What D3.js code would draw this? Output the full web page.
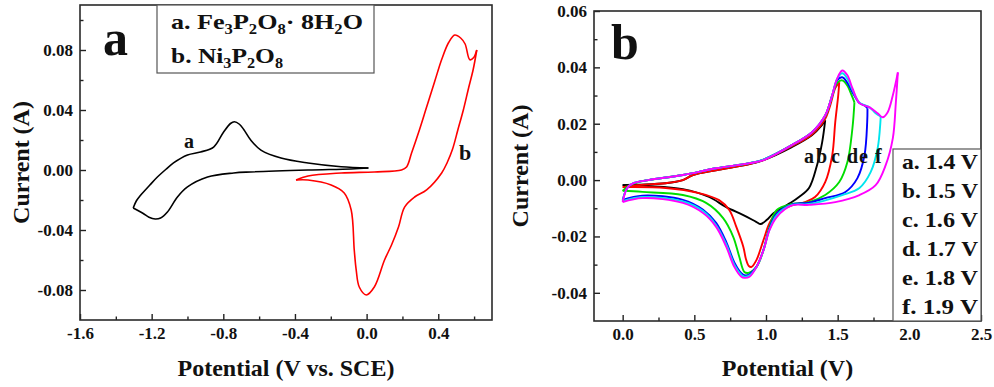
<!DOCTYPE html>
<html>
<head>
<meta charset="utf-8">
<script src="https://cdn.jsdelivr.net/npm/d3@7"></script>
<style>
  body { margin: 0; background: #fff; }
  svg { display: block; }
  svg text { font-family: "Liberation Serif", "DejaVu Serif", serif !important; font-weight: bold; fill: #111; }
</style>
</head>
<body>
<svg id="chart" width="994" height="387"></svg>
<script>
// ---- panel a : CV of the two phosphates, [potential V vs SCE, current A]
const fe3p2o8 = [
  [-1.303,-0.0253],[-1.285,-0.0205],[-1.263,-0.0170],[-1.210,-0.0100],[-1.168,-0.0047],[-1.120,0.0005],
  [-1.078,0.0047],[-1.000,0.0100],[-0.927,0.0120],[-0.854,0.0153],[-0.800,0.0250],[-0.760,0.0310],
  [-0.738,0.0322],[-0.710,0.0305],[-0.686,0.0270],[-0.647,0.0200],[-0.590,0.0133],[-0.478,0.0080],
  [-0.327,0.0047],[-0.142,0.0022],[0.010,0.0013],
  [-0.086,0.0007],[-0.327,0.0000],[-0.647,-0.0013],[-0.742,-0.0020],[-0.888,-0.0047],[-1.000,-0.0113],
  [-1.056,-0.0180],[-1.112,-0.0280],[-1.150,-0.0320],[-1.180,-0.0327],[-1.215,-0.0315],[-1.247,-0.0290],
  [-1.303,-0.0253]
];
const ni3p2o8 = [
  [-0.394,-0.0067],[-0.327,-0.0040],[-0.142,-0.0020],[0.043,-0.0013],[0.195,0.0000],[0.223,0.0020],
  [0.251,0.0113],[0.290,0.0250],[0.335,0.0420],[0.380,0.0590],[0.420,0.0740],[0.458,0.0850],
  [0.492,0.0900],[0.525,0.0880],[0.550,0.0840],[0.576,0.0735],[0.598,0.0750],[0.615,0.0800],
  [0.595,0.0670],[0.570,0.0550],[0.540,0.0400],[0.510,0.0270],[0.480,0.0140],[0.450,0.0050],
  [0.419,-0.0020],[0.335,-0.0133],[0.268,-0.0180],[0.212,-0.0247],[0.178,-0.0380],[0.139,-0.0500],
  [0.100,-0.0600],[0.043,-0.0780],[-0.002,-0.0833],[-0.041,-0.0780],[-0.058,-0.0667],[-0.069,-0.0533],
  [-0.086,-0.0267],[-0.125,-0.0153],[-0.198,-0.0100],[-0.327,-0.0067],[-0.394,-0.0067]
];

// ---- panel b : CV at different upper potentials, [potential V, current A]
const cv14 = [
  [0.000,-0.0018],[0.100,-0.0016],[0.300,-0.0011],[0.420,0.0000],[0.490,0.0018],[0.650,0.0035],
  [0.885,0.0057],[0.983,0.0071],[1.180,0.0117],[1.320,0.0159],[1.390,0.0195],[1.413,0.0212],
  [1.392,0.0135],[1.356,0.0053],[1.300,-0.0028],[1.230,-0.0060],[1.180,-0.0078],[1.054,-0.0117],
  [1.004,-0.0142],[0.962,-0.0156],[0.934,-0.0149],[0.842,-0.0124],[0.723,-0.0096],[0.603,-0.0060],
  [0.420,-0.0032],[0.180,-0.0021],[0.000,-0.0018]
];
const cv15 = [
  [0.000,-0.0025],[0.100,-0.0018],[0.300,-0.0011],[0.420,0.0000],[0.490,0.0018],[0.650,0.0035],
  [0.885,0.0057],[0.983,0.0071],[1.180,0.0120],[1.320,0.0162],[1.410,0.0215],[1.448,0.0265],
  [1.483,0.0326],[1.511,0.0347],
  [1.504,0.0301],[1.483,0.0205],[1.462,0.0088],[1.413,-0.0007],[1.342,-0.0060],[1.272,-0.0078],
  [1.180,-0.0090],[1.075,-0.0117],[1.025,-0.0152],[0.983,-0.0212],[0.934,-0.0283],[0.899,-0.0308],
  [0.880,-0.0305],[0.860,-0.0280],[0.842,-0.0237],[0.793,-0.0166],[0.744,-0.0106],[0.673,-0.0071],
  [0.532,-0.0046],[0.300,-0.0028],[0.000,-0.0025]
];
const cv16 = [
  [0.000,-0.0038],[0.039,-0.0021],[0.110,-0.0007],[0.180,0.0000],[0.420,0.0018],[0.652,0.0042],
  [0.885,0.0060],[0.983,0.0073],[1.180,0.0124],[1.321,0.0170],[1.413,0.0228],[1.462,0.0301],
  [1.497,0.0345],[1.532,0.0354],[1.568,0.0335],[1.590,0.0310],[1.617,0.0276],
  [1.603,0.0184],[1.568,0.0064],[1.511,-0.0007],[1.413,-0.0053],[1.300,-0.0078],[1.180,-0.0085],
  [1.075,-0.0106],[1.025,-0.0166],[0.983,-0.0248],[0.934,-0.0308],[0.877,-0.0329],[0.849,-0.0326],
  [0.814,-0.0273],[0.772,-0.0202],[0.701,-0.0135],[0.582,-0.0081],[0.420,-0.0053],[0.138,-0.0042],
  [0.000,-0.0038]
];
const cv17 = [
  [0.000,-0.0070],[0.032,-0.0028],[0.075,-0.0011],[0.180,0.0000],[0.420,0.0018],[0.652,0.0042],
  [0.885,0.0060],[0.983,0.0073],[1.180,0.0124],[1.321,0.0170],[1.413,0.0229],[1.462,0.0301],
  [1.497,0.0355],[1.532,0.0365],[1.568,0.0345],[1.603,0.0312],[1.652,0.0273],[1.687,0.0265],
  [1.708,0.0255],
  [1.706,0.0205],[1.687,0.0088],[1.638,0.0007],[1.554,-0.0042],[1.413,-0.0064],[1.300,-0.0080],
  [1.180,-0.0087],[1.075,-0.0118],[1.025,-0.0170],[0.983,-0.0246],[0.934,-0.0307],[0.885,-0.0334],
  [0.856,-0.0338],[0.828,-0.0330],[0.779,-0.0292],[0.723,-0.0220],[0.652,-0.0152],[0.561,-0.0105],
  [0.420,-0.0070],[0.138,-0.0055],[0.000,-0.0070]
];
const cv18 = [
  [0.000,-0.0075],[0.032,-0.0028],[0.075,-0.0011],[0.180,0.0000],[0.420,0.0018],[0.652,0.0042],
  [0.885,0.0060],[0.983,0.0073],[1.180,0.0124],[1.321,0.0170],[1.413,0.0229],[1.462,0.0301],
  [1.497,0.0360],[1.532,0.0379],[1.568,0.0360],[1.603,0.0320],[1.652,0.0275],[1.723,0.0258],
  [1.765,0.0237],[1.800,0.0226],
  [1.798,0.0205],[1.779,0.0113],[1.730,0.0028],[1.652,-0.0028],[1.532,-0.0053],[1.300,-0.0085],
  [1.180,-0.0088],[1.075,-0.0124],[1.025,-0.0175],[0.983,-0.0248],[0.934,-0.0308],[0.885,-0.0338],
  [0.849,-0.0343],[0.828,-0.0336],[0.779,-0.0300],[0.723,-0.0228],[0.652,-0.0160],[0.561,-0.0110],
  [0.420,-0.0076],[0.138,-0.0060],[0.000,-0.0075]
];
const cv19 = [
  [0.000,-0.0078],[0.032,-0.0028],[0.075,-0.0011],[0.180,0.0000],[0.420,0.0018],[0.652,0.0042],
  [0.885,0.0060],[0.983,0.0071],[1.180,0.0124],[1.321,0.0170],[1.413,0.0230],[1.462,0.0301],
  [1.497,0.0361],[1.532,0.0389],[1.568,0.0372],[1.603,0.0326],[1.652,0.0273],[1.723,0.0258],
  [1.779,0.0237],[1.814,0.0223],[1.849,0.0241],[1.885,0.0301],[1.920,0.0382],
  [1.906,0.0276],[1.885,0.0149],[1.835,0.0053],[1.765,-0.0018],[1.652,-0.0053],[1.483,-0.0078],
  [1.300,-0.0088],[1.180,-0.0090],[1.075,-0.0131],[1.025,-0.0177],[0.983,-0.0248],[0.934,-0.0308],
  [0.885,-0.0343],[0.849,-0.0347],[0.828,-0.0343],[0.779,-0.0308],[0.723,-0.0237],[0.652,-0.0166],
  [0.561,-0.0117],[0.420,-0.0081],[0.138,-0.0064],[0.000,-0.0078]
];
const seriesB = ["a. 1.4 V", "b. 1.5 V", "c. 1.6 V", "d. 1.7 V", "e. 1.8 V", "f. 1.9 V"];
const colorsB = ["#000000", "#ff0000", "#00dd00", "#0000ff", "#00e5ee", "#ff00ff"];

// tick values
const xTicksA = [-1.6, -1.2, -0.8, -0.4, 0.0, 0.4];
const xMinorA = [-1.4, -1.0, -0.6, -0.2, 0.2, 0.6];
const yTicksA = [-0.08, -0.04, 0.00, 0.04, 0.08];
const yMinorA = [-0.06, -0.02, 0.02, 0.06, 0.10];
const xTicksB = [0.0, 0.5, 1.0, 1.5, 2.0, 2.5];
const xMinorB = [0.25, 0.75, 1.25, 1.75, 2.25];
const yTicksB = [-0.04, -0.02, 0.00, 0.02, 0.04, 0.06];
const yMinorB = [-0.03, -0.01, 0.01, 0.03, 0.05];

const FONT = "Liberation Serif, DejaVu Serif, serif";
const svg = d3.select("#chart");

/** frame, inward ticks and labels of one panel */
function makePanel(o) {
  const x = d3.scaleLinear().domain(o.xDomain).range([o.left, o.right]);
  const y = d3.scaleLinear().domain(o.yDomain).range([o.bottom, o.top]);
  const g = svg.append("g");

  const styleAxis = a => {
    a.attr("font-family", FONT).attr("font-weight", "bold").attr("font-size", 17);
    a.select(".domain").remove();
    a.selectAll(".tick line").attr("stroke", "#222").attr("stroke-width", 1.4);
    a.selectAll("text").attr("fill", "#111");
  };

  g.append("g")
    .attr("transform", `translate(0,${o.bottom})`)
    .call(d3.axisBottom(x).tickValues(o.xTicks).tickSize(-6).tickPadding(7)
      .tickFormat(d => d.toFixed(1)))
    .call(styleAxis);

  g.append("g")
    .attr("transform", `translate(0,${o.bottom})`)
    .call(d3.axisBottom(x).tickValues(o.xMinor).tickSize(-3.5).tickFormat(""))
    .call(styleAxis);

  g.append("g")
    .attr("transform", `translate(${o.left},0)`)
    .call(d3.axisLeft(y).tickValues(o.yTicks).tickSize(-6).tickPadding(7)
      .tickFormat(d => d.toFixed(2)))
    .call(styleAxis);

  g.append("g")
    .attr("transform", `translate(${o.left},0)`)
    .call(d3.axisLeft(y).tickValues(o.yMinor).tickSize(-3.5).tickFormat(""))
    .call(styleAxis);

  g.append("rect")
    .attr("x", o.left).attr("y", o.top)
    .attr("width", o.right - o.left).attr("height", o.bottom - o.top)
    .attr("fill", "none").attr("stroke", "#2a2a2a").attr("stroke-width", 1.6);

  g.append("text")
    .attr("x", (o.left + o.right) / 2).attr("y", 376)
    .attr("text-anchor", "middle").style("font-size", "24px")
    .text(o.xTitle);

  g.append("text")
    .attr("transform", `translate(${o.yTitleX},${(o.top + o.bottom) / 2}) rotate(-90)`)
    .attr("text-anchor", "middle").style("font-size", "24px")
    .text("Current (A)");

  return { x, y, g };
}

/** draw a CV loop as two branches, split at the switching potential */
function drawLoop(p, pts, color, width) {
  const k = d3.maxIndex(pts, d => d[0]);
  const line = d3.line()
    .x(d => p.x(d[0]))
    .y(d => p.y(d[1]))
    .curve(d3.curveCatmullRom.alpha(0.5));
  p.g.selectAll(null)
    .data([pts.slice(0, k + 1), pts.slice(k)])
    .join("path")
    .attr("d", line)
    .attr("fill", "none")
    .attr("stroke", color)
    .attr("stroke-width", width)
    .attr("stroke-linejoin", "round");
}

// subscript-aware label, parts: [text, isSub]
function richText(g, xPos, yPos, parts, size, len) {
  const t = g.append("text").attr("x", xPos).attr("y", yPos).style("font-size", size + "px");
  let shifted = false;
  parts.forEach(([s, sub]) => {
    const ts = t.append("tspan").text(s);
    if (sub) {
      ts.style("font-size", Math.round(size * 0.64) + "px");
      if (!shifted) { ts.attr("dy", 5); shifted = true; }
    } else if (shifted) { ts.attr("dy", -5); shifted = false; }
  });
  if (len) t.attr("textLength", len).attr("lengthAdjust", "spacingAndGlyphs");
  return t;
}

// ---------------- panel a
const pa = makePanel({
  left: 80, right: 492, top: 5, bottom: 320,
  xDomain: [-1.6, 0.7], yDomain: [-0.10, 0.11],
  xTicks: xTicksA, xMinor: xMinorA, yTicks: yTicksA, yMinor: yMinorA,
  xTitle: "Potential (V vs. SCE)", yTitleX: 29
});

drawLoop(pa, fe3p2o8, "#000", 1.6);
drawLoop(pa, ni3p2o8, "#ff0000", 1.6);

pa.g.append("text").attr("x", 103).attr("y", 55).style("font-size", "50px").text("a");
pa.g.append("text").attr("x", 184).attr("y", 148).style("font-size", "20px").text("a");
pa.g.append("text").attr("x", 459).attr("y", 160).style("font-size", "22px").text("b");

pa.g.append("rect")
  .attr("x", 157).attr("y", 5).attr("width", 217).attr("height", 68)
  .attr("fill", "#fff").attr("stroke", "#555").attr("stroke-width", 1.2);
richText(pa.g, 171, 29,
  [["a. Fe"], ["3", 1], ["P"], ["2", 1], ["O"], ["8", 1], ["·  8H"], ["2", 1], ["O"]], 22, 192);
richText(pa.g, 171, 63,
  [["b. Ni"], ["3", 1], ["P"], ["2", 1], ["O"], ["8", 1]], 22, 112);

// ---------------- panel b
const pb = makePanel({
  left: 594, right: 981, top: 11, bottom: 321,
  xDomain: [-0.2, 2.5], yDomain: [-0.05, 0.06],
  xTicks: xTicksB, xMinor: xMinorB, yTicks: yTicksB, yMinor: yMinorB,
  xTitle: "Potential (V)", yTitleX: 528
});

[cv14, cv15, cv16, cv17, cv18, cv19].forEach((c, i) => drawLoop(pb, c, colorsB[i], 1.9));

pb.g.append("text").attr("x", 611).attr("y", 59).style("font-size", "50px").text("b");

const curveTags = [["a", 804], ["b", 816], ["c", 831], ["d", 847], ["e", 859], ["f", 875]];
pb.g.selectAll(null).data(curveTags).join("text")
  .attr("x", d => d[1]).attr("y", 163)
  .style("font-size", "20px")
  .text(d => d[0]);

pb.g.append("rect")
  .attr("x", 893).attr("y", 149).attr("width", 88).attr("height", 172)
  .attr("fill", "#fff").attr("stroke", "#555").attr("stroke-width", 1.2);
pb.g.selectAll(null).data(seriesB).join("text")
  .attr("x", 902).attr("y", (d, i) => 169 + i * 29)
  .style("font-size", "22px")
  .attr("textLength", 76).attr("lengthAdjust", "spacingAndGlyphs")
  .text(d => d);
</script>
</body>
</html>
